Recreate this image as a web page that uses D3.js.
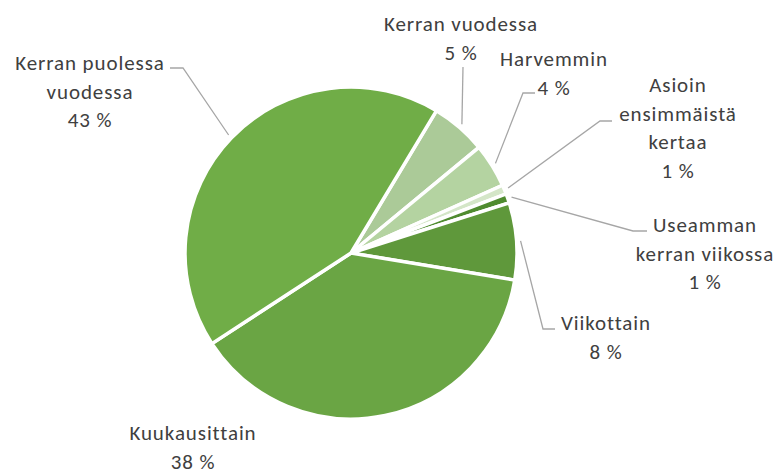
<!DOCTYPE html>
<html>
<head>
<meta charset="utf-8">
<script src="https://cdn.jsdelivr.net/npm/d3@7"></script>
<style>
  body { margin: 0; background: #fff; }
  svg { display: block; }
</style>
</head>
<body>
<div class="chart"></div>
<script>
// values (share in %), clockwise from the first slice
var categories = ["Kerran vuodessa", "Harvemmin", "Asioin ensimmäistä kertaa",
  "Useamman kerran viikossa", "Viikottain", "Kuukausittain", "Kerran puolessa vuodessa"]
var values = [5.4, 4.3, 0.9, 0.9, 7.5, 38.2, 42.8]
var labelLines = [
  ["Kerran vuodessa"],
  ["Harvemmin"],
  ["Asioin", "ensimmäistä", "kertaa"],
  ["Useamman", "kerran viikossa"],
  ["Viikottain"],
  ["Kuukausittain"],
  ["Kerran puolessa", "vuodessa"]
]
var colors = ["#abca98", "#b4d3a1", "#d4e6c8", "#4f8b2f", "#5f983b", "#6aa544", "#70ad47"]

var width = 779, height = 474
var cx = 351, cy = 253, r = 166

// label block layout: centre x, first baseline y, leader elbow
var labelAt = [
  { x: 461, y: 31, elbow: null, end: [463, 67] },
  { x: 554, y: 66, elbow: [523, 93], end: [535, 93] },
  { x: 678, y: 92, elbow: [600, 121], end: [612, 121] },
  { x: 705, y: 232, elbow: [633, 231], end: [647, 231] },
  { x: 606, y: 330, elbow: [543, 329], end: [555, 329] },
  { x: 193, y: 440, elbow: null, end: null },
  { x: 90, y: 70, elbow: [183, 68], end: [170, 68] }
]
var lineH = 28.6

var svg = d3.select(".chart")
  .append("svg")
  .attr("width", width)
  .attr("height", height)

var pie = d3.pie()
  .sort(null)
  .startAngle(31 * Math.PI / 180)
  .endAngle(391 * Math.PI / 180)
  .value(d => d)

var arcs = pie(values)

var arc = d3.arc().innerRadius(0).outerRadius(r)
var leaderArc = d3.arc().innerRadius(r + 4).outerRadius(r + 4)

var g = svg.append("g").attr("transform", "translate(" + cx + "," + cy + ")")

g.selectAll("path.slice")
  .data(arcs)
  .join("path")
  .attr("class", "slice")
  .attr("d", arc)
  .style("fill", (d, i) => colors[i])
  .style("stroke", "#fff")
  .style("stroke-width", 3.5)
  .style("stroke-linejoin", "miter")

// leader lines
arcs.forEach((d, i) => {
  var L = labelAt[i]
  if (!L.end) return
  var p = leaderArc.centroid(d)
  var pts = [[cx + p[0], cy + p[1]]]
  if (L.elbow) pts.push(L.elbow)
  pts.push(L.end)
  svg.append("path")
    .attr("d", d3.line()(pts))
    .style("fill", "none")
    .style("stroke", "#a6a6a6")
    .style("stroke-width", 1.3)
})

// labels
arcs.forEach((d, i) => {
  var L = labelAt[i]
  var lines = labelLines[i].concat([Math.round(values[i]) + " %"])
  var t = svg.append("text")
    .attr("text-anchor", "middle")
    .attr("font-family", "Carlito, Calibri, Lato, sans-serif")
    .style("font-size", "21px")
    .style("letter-spacing", "0.9px")
    .attr("fill", "#404040")
  lines.forEach((s, k) => {
    t.append("tspan")
      .attr("x", L.x)
      .attr("y", L.y + k * lineH)
      .text(s)
  })
})
</script>
</body>
</html>
